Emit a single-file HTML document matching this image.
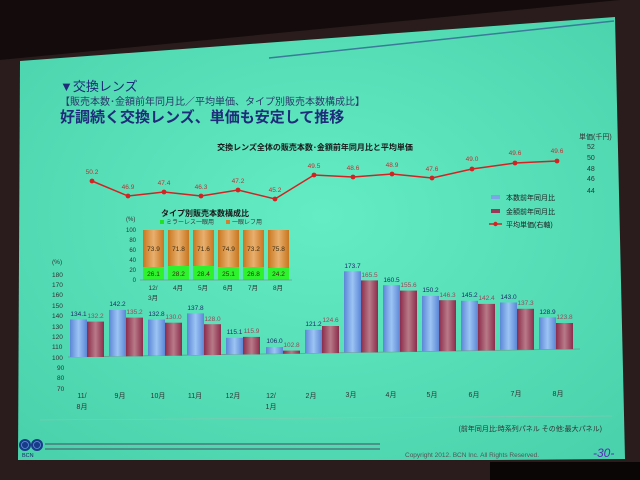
<!DOCTYPE html>
<html><head><meta charset="utf-8"><style>
html,body{margin:0;padding:0;background:#140c0c;width:640px;height:480px;overflow:hidden}
svg{display:block}
text{font-family:"Liberation Sans","Noto Sans CJK JP",sans-serif}
</style></head><body>
<svg width="640" height="480" viewBox="0 0 640 480" xmlns="http://www.w3.org/2000/svg">
<defs>
<linearGradient id="bl" x1="0" x2="1"><stop offset="0" stop-color="#5b86d6"/><stop offset="0.5" stop-color="#9cc4f4"/><stop offset="1" stop-color="#5b86d6"/></linearGradient>
<linearGradient id="rd" x1="0" x2="1"><stop offset="0" stop-color="#8c2c4c"/><stop offset="0.5" stop-color="#b87a88"/><stop offset="1" stop-color="#8c2c4c"/></linearGradient>
<linearGradient id="or" x1="0" x2="1"><stop offset="0" stop-color="#c8761e"/><stop offset="0.5" stop-color="#e8b070"/><stop offset="1" stop-color="#c8761e"/></linearGradient>
<radialGradient id="bg" cx="0.5" cy="0.45" r="0.7"><stop offset="0" stop-color="#64ecc4"/><stop offset="1" stop-color="#4ad2ac"/></radialGradient>
</defs>
<polygon points="0,60 620,0 640,0 640,480 0,480" fill="#2a1c1c"/>
<polygon points="20,61 615,17 625,459 490,460 18,460" fill="url(#bg)"/>
<line x1="269" y1="58" x2="614" y2="21" stroke="#3a7a9a" stroke-width="1.5"/>
<rect x="490" y="462" width="150" height="18" fill="#0a0606"/>

<text x="60" y="91" font-size="13" fill="#1e2c7a">▼交換レンズ</text>
<text x="60" y="105" font-size="10" fill="#2a3a6a">【販売本数･金額前年同月比／平均単価、タイプ別販売本数構成比】</text>
<text x="60" y="122" font-size="15" font-weight="bold" fill="#1e2c7a">好調続く交換レンズ、単価も安定して推移</text>
<text x="315" y="150" font-size="8" font-weight="bold" text-anchor="middle" fill="#1a1a1a">交換レンズ全体の販売本数･金額前年同月比と平均単価</text>

<!-- right axis -->
<g font-size="7" fill="#333">
<text x="579" y="139">単価(千円)</text>
<text x="587" y="149">52</text><text x="587" y="160">50</text><text x="587" y="171">48</text><text x="587" y="181">46</text><text x="587" y="193">44</text>
</g>
<!-- line -->
<polyline fill="none" stroke="#d42222" stroke-width="1.5" points="92,181 128,196 164,192 201,196 238,190 275,199 314,175 353,177 392,174 432,178 472,169 515,163 557,161"/>
<g fill="#d42222">
<circle cx="92" cy="181" r="2.4"/><circle cx="128" cy="196" r="2.4"/><circle cx="164" cy="192" r="2.4"/><circle cx="201" cy="196" r="2.4"/><circle cx="238" cy="190" r="2.4"/><circle cx="275" cy="199" r="2.4"/><circle cx="314" cy="175" r="2.4"/><circle cx="353" cy="177" r="2.4"/><circle cx="392" cy="174" r="2.4"/><circle cx="432" cy="178" r="2.4"/><circle cx="472" cy="169" r="2.4"/><circle cx="515" cy="163" r="2.4"/><circle cx="557" cy="161" r="2.4"/>
</g>
<g font-size="6.5" fill="#c03030" text-anchor="middle">
<text x="92" y="174">50.2</text><text x="128" y="189">46.9</text><text x="164" y="185">47.4</text><text x="201" y="189">46.3</text><text x="238" y="183">47.2</text><text x="275" y="192">45.2</text><text x="314" y="168">49.5</text><text x="353" y="170">48.6</text><text x="392" y="167">48.9</text><text x="432" y="171">47.6</text><text x="472" y="161">49.0</text><text x="515" y="155">49.6</text><text x="557" y="153">49.6</text>
</g>
<!-- legend -->
<rect x="491" y="195" width="9" height="4" fill="#7aa6e8"/>
<rect x="491" y="209" width="9" height="4" fill="#9a3858"/>
<line x1="489" y1="224" x2="502" y2="224" stroke="#d42222" stroke-width="1.5"/><circle cx="495.5" cy="224" r="2.2" fill="#d42222"/>
<g font-size="7" fill="#222"><text x="506" y="200">本数前年同月比</text><text x="506" y="214">金額前年同月比</text><text x="506" y="227">平均単価(右軸)</text></g>

<!-- inset -->
<text x="205" y="216" font-size="8" font-weight="bold" text-anchor="middle" fill="#1a1a1a">タイプ別販売本数構成比</text>
<text x="126" y="221" font-size="6" fill="#333">(%)</text>
<rect x="160" y="220" width="4" height="4" fill="#22e022"/><text x="166" y="224" font-size="6" fill="#333">ミラーレス一眼用</text>
<rect x="226" y="220" width="4" height="4" fill="#d08030"/><text x="232" y="224" font-size="6" fill="#333">一眼レフ用</text>
<g font-size="6" fill="#333" text-anchor="end">
<text x="136" y="232">100</text><text x="136" y="242">80</text><text x="136" y="252">60</text><text x="136" y="262">40</text><text x="136" y="272">20</text><text x="136" y="282">0</text>
</g>
<g>
<rect x="143" y="230" width="21" height="37" fill="url(#or)"/><rect x="143" y="267" width="21" height="13" fill="#2ef22e"/>
<rect x="168" y="230" width="21" height="36" fill="url(#or)"/><rect x="168" y="266" width="21" height="14" fill="#2ef22e"/>
<rect x="193" y="230" width="21" height="36" fill="url(#or)"/><rect x="193" y="266" width="21" height="14" fill="#2ef22e"/>
<rect x="218" y="230" width="21" height="37" fill="url(#or)"/><rect x="218" y="267" width="21" height="13" fill="#2ef22e"/>
<rect x="243" y="230" width="21" height="37" fill="url(#or)"/><rect x="243" y="267" width="21" height="13" fill="#2ef22e"/>
<rect x="268" y="230" width="21" height="38" fill="url(#or)"/><rect x="268" y="268" width="21" height="12" fill="#2ef22e"/>
</g>
<line x1="140" y1="280" x2="292" y2="280" stroke="#777" stroke-width="0.6"/>
<g font-size="6.5" fill="#3a2a10" text-anchor="middle">
<text x="153.5" y="251">73.9</text><text x="178.5" y="251">71.8</text><text x="203.5" y="251">71.6</text><text x="228.5" y="251">74.9</text><text x="253.5" y="251">73.2</text><text x="278.5" y="251">75.8</text>
<text x="153.5" y="276">26.1</text><text x="178.5" y="276">28.2</text><text x="203.5" y="276">28.4</text><text x="228.5" y="276">25.1</text><text x="253.5" y="276">26.8</text><text x="278.5" y="276">24.2</text>
</g>
<g font-size="6.5" fill="#333" text-anchor="middle">
<text x="153" y="290">12/</text><text x="153" y="300">3月</text><text x="178" y="290">4月</text><text x="203" y="290">5月</text><text x="228" y="290">6月</text><text x="253" y="290">7月</text><text x="278" y="290">8月</text>
</g>

<!-- main bar axis -->
<g font-size="6.5" fill="#333">
<text x="52" y="264">(%)</text>
<text x="52" y="277">180</text><text x="52" y="287">170</text><text x="52" y="297">160</text><text x="52" y="308">150</text><text x="52" y="318">140</text><text x="52" y="329">130</text><text x="52" y="339">120</text><text x="52" y="349">110</text><text x="52" y="360">100</text><text x="57" y="370">90</text><text x="57" y="380">80</text><text x="57" y="391">70</text>
</g>
<line x1="68" y1="357" x2="580" y2="349" stroke="#6a9a8a" stroke-width="0.8"/>
<g fill="url(#bl)">
<rect x="70" y="319.5" width="17" height="37.5"/><rect x="109" y="309.9" width="17" height="46.4"/><rect x="148" y="319.6" width="17" height="36.1"/><rect x="187" y="313.4" width="17" height="41.6"/><rect x="226" y="337.8" width="17" height="16.6"/><rect x="266" y="347.1" width="17" height="6.6"/><rect x="305" y="329.8" width="17" height="23.3"/><rect x="344" y="271.3" width="17" height="81.1"/><rect x="383" y="285.2" width="17" height="66.6"/><rect x="422" y="295.9" width="17" height="55.2"/><rect x="461" y="300.8" width="17" height="49.7"/><rect x="500" y="302.5" width="17" height="47.3"/><rect x="539" y="317.4" width="17" height="31.8"/>
</g>
<g fill="url(#rd)">
<rect x="87" y="321.6" width="17" height="35.4"/><rect x="126" y="317.6" width="17" height="38.7"/><rect x="165" y="322.7" width="17" height="33"/><rect x="204" y="324.2" width="17" height="30.8"/><rect x="243" y="336.9" width="17" height="17.5"/><rect x="283" y="350.6" width="17" height="3.1"/><rect x="322" y="326" width="17" height="27.1"/><rect x="361" y="280.4" width="17" height="72"/><rect x="400" y="290.6" width="17" height="61.2"/><rect x="439" y="300.2" width="17" height="50.9"/><rect x="478" y="303.9" width="17" height="46.6"/><rect x="517" y="308.8" width="17" height="41"/><rect x="556" y="323" width="17" height="26.2"/>
</g>
<g font-size="6.5" text-anchor="middle" fill="#1e2c6a">
<text x="78.5" y="316">134.1</text><text x="117.5" y="306">142.2</text><text x="156.5" y="316">132.8</text><text x="195.5" y="310">137.8</text><text x="234.5" y="334">115.1</text><text x="274.5" y="343">106.0</text><text x="313.5" y="326">121.2</text><text x="352.5" y="268">173.7</text><text x="391.5" y="282">160.5</text><text x="430.5" y="292">150.2</text><text x="469.5" y="297">145.2</text><text x="508.5" y="299">143.0</text><text x="547.5" y="314">128.9</text>
</g>
<g font-size="6.5" text-anchor="middle" fill="#9a4858">
<text x="95.5" y="318">132.2</text><text x="134.5" y="314">135.2</text><text x="173.5" y="319">130.0</text><text x="212.5" y="321">128.0</text><text x="251.5" y="333">115.9</text><text x="291.5" y="347">102.8</text><text x="330.5" y="322">124.6</text><text x="369.5" y="277">165.5</text><text x="408.5" y="287">155.6</text><text x="447.5" y="297">146.3</text><text x="486.5" y="300">142.4</text><text x="525.5" y="305">137.3</text><text x="564.5" y="319">123.8</text>
</g>
<g font-size="7" fill="#333" text-anchor="middle">
<text x="82" y="398">11/</text><text x="82" y="409">8月</text><text x="120" y="398">9月</text><text x="158" y="398">10月</text><text x="195" y="398">11月</text><text x="233" y="398">12月</text><text x="271" y="398">12/</text><text x="271" y="409">1月</text><text x="311" y="398">2月</text><text x="351" y="397">3月</text><text x="391" y="397">4月</text><text x="432" y="397">5月</text><text x="474" y="397">6月</text><text x="516" y="396">7月</text><text x="558" y="396">8月</text>
</g>
<line x1="40" y1="420" x2="612" y2="416" stroke="#8ac8b4" stroke-width="0.6"/>
<text x="602" y="431" font-size="7" text-anchor="end" fill="#333">(前年同月比:時系列パネル その他:最大パネル)</text>

<!-- footer -->
<line x1="45" y1="444" x2="380" y2="444" stroke="#4a7a7a" stroke-width="1.5"/>
<line x1="45" y1="449" x2="380" y2="449" stroke="#4a7a7a" stroke-width="1.5"/>
<circle cx="25" cy="445" r="6" fill="#1a3a8a"/><circle cx="37" cy="445" r="6" fill="#1a3a8a"/>
<circle cx="25" cy="445" r="3.5" fill="none" stroke="#5a9ad8" stroke-width="0.8"/><circle cx="37" cy="445" r="3.5" fill="none" stroke="#5a9ad8" stroke-width="0.8"/>
<text x="22" y="457" font-size="5.5" fill="#1a2a6a">BCN</text>
<text x="405" y="457" font-size="6.5" fill="#555" font-family="Liberation Serif">Copyright 2012. BCN Inc. All Rights Reserved.</text>
<text x="593" y="457" font-size="12" font-style="italic" fill="#5a2ab8">-30-</text>
</svg>
</body></html>
